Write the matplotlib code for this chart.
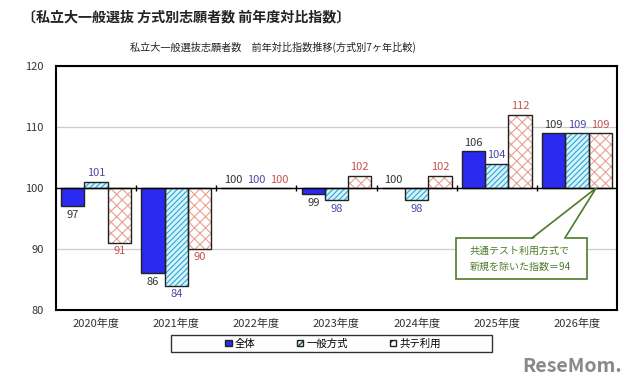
#!/usr/bin/python3

# 私立大一般選抜 方式別志願者数 前年度対比指数 (grouped bars around 100)

import matplotlib
matplotlib.use('Agg')
import matplotlib.pyplot as plt
from matplotlib.patches import Rectangle, Polygon
import numpy as np

plt.rcParams['font.family'] = ['Noto Sans CJK JP', 'DejaVu Sans']
plt.rcParams['hatch.linewidth'] = 0.8

years = ['2020年度', '2021年度', '2022年度', '2023年度', '2024年度', '2025年度', '2026年度']
series_names = ['全体', '一般方式', '共テ利用']
zentai = [97, 86, 100, 99, 100, 106, 109]
ippan = [101, 84, 100, 98, 98, 104, 109]
kyote = [91, 90, 100, 102, 102, 112, 109]
note_text = '共通テスト利用方式で\n新規を除いた指数＝94'

base = 100
x = np.arange(len(years))
w = 0.29
green = '#4e7a27'

fig = plt.figure(figsize=(6.4, 3.88), dpi=100)
ax = fig.add_axes([56/640, 1 - 310/388, 561/640, 244/388])

styles = [
    # face, hatch, hatch colour, label colour
    ('#2a2af0', None, '#2a2af0', '#333333'),
    ('#d6f3fb', '//////', '#2aa6d8', '#4a4aa8'),
    ('white', 'xxx', '#e8a090', '#c85050'),
]
series = [zentai, ippan, kyote]

for i, (vals, (fc, hatch, hc, lc)) in enumerate(zip(series, styles)):
    pos = x + (i - 1) * w
    h = [v - base for v in vals]
    ax.bar(pos, h, w, bottom=base, color=fc, hatch=hatch, edgecolor=hc,
           linewidth=0, zorder=2)
    ax.bar(pos, h, w, bottom=base, fill=False, edgecolor='#222222',
           linewidth=1.0, zorder=3)
    for p, v in zip(pos, vals):
        if v >= base:
            ax.annotate(str(v), (p, v), xytext=(0, 2.5), textcoords='offset points',
                        ha='center', va='bottom', fontsize=8, color=lc)
        else:
            ax.annotate(str(v), (p, v), xytext=(0, -2.5), textcoords='offset points',
                        ha='center', va='top', fontsize=8, color=lc)

ax.set_xlim(-0.5, len(years) - 0.5)
ax.set_ylim(80, 120)
ax.set_yticks([80, 90, 100, 110, 120])
ax.set_xticks(x)
ax.set_xticklabels(years)
ax.tick_params(axis='both', length=0, labelsize=8, colors='#333333')
ax.tick_params(axis='x', pad=6)
ax.tick_params(axis='y', pad=9)
ax.grid(axis='y', color='#cccccc', linewidth=0.9, zorder=0)
ax.axhline(base, color='black', linewidth=1.0, zorder=4)
ax.plot(x[:-1] + 0.5, [base] * (len(x) - 1), linestyle='none', marker='|',
        markersize=5, color='black', markeredgewidth=1.0, zorder=4)
for s in ax.spines.values():
    s.set_linewidth(1.5)
    s.set_color('black')

# callout box with a pointer to the 2026 共テ利用 bar
bx0, bx1, by0, by1 = 4.49, 6.13, 85.1, 91.8
tip = (6.24, base)
wl, wr = 5.44, 5.85
ax.add_patch(Rectangle((bx0, by0), bx1 - bx0, by1 - by0, fc='white', ec=green,
                       lw=1.2, zorder=5))
ax.add_patch(Polygon([(wl, by1 - 0.3), tip, (wr, by1 - 0.3)], closed=True,
                     fc='white', ec='none', zorder=6))
ax.plot([wl, tip[0], wr], [by1, tip[1], by1], color=green, lw=1.2, zorder=7,
        solid_joinstyle='miter')
ax.text(4.66, 88.4, note_text, ha='left', va='center', fontsize=7.2,
        color=green, linespacing=1.7, zorder=8)

# legend in a plain box below the plot
fig.patches.append(Rectangle((171/640, 1 - 352/388), 321/640, 17/388,
                             transform=fig.transFigure, fill=False,
                             ec='#333333', lw=1.0))
handles = [plt.Rectangle((0, 0), 1, 1, fc=s[0], ec='#222222', hatch=s[1]) for s in styles]
fig.legend(handles, series_names, loc='center', ncol=3,
           bbox_to_anchor=(333/640, 1 - 343.5/388),
           frameon=False, fontsize=7.5,
           handlelength=0.6, handleheight=0.6, handletextpad=0.3,
           columnspacing=4.0, borderpad=0, borderaxespad=0)

fig.text(22/640, 1 - 17/388, '〔私立大一般選抜 方式別志願者数 前年度対比指数〕',
         fontsize=10.1, fontweight='bold', va='center', ha='left', color='#222222')
fig.text(273/640, 1 - 47/388, '私立大一般選抜志願者数　前年対比指数推移(方式別7ヶ年比較)',
         fontsize=7.3, va='center', ha='center', color='#222222')
fig.text(622/640, 1 - 366/388, 'ReseMom.', fontsize=14, fontweight='bold',
         va='center', ha='right', color='#888888')

fig.savefig('out.png', dpi=100)
